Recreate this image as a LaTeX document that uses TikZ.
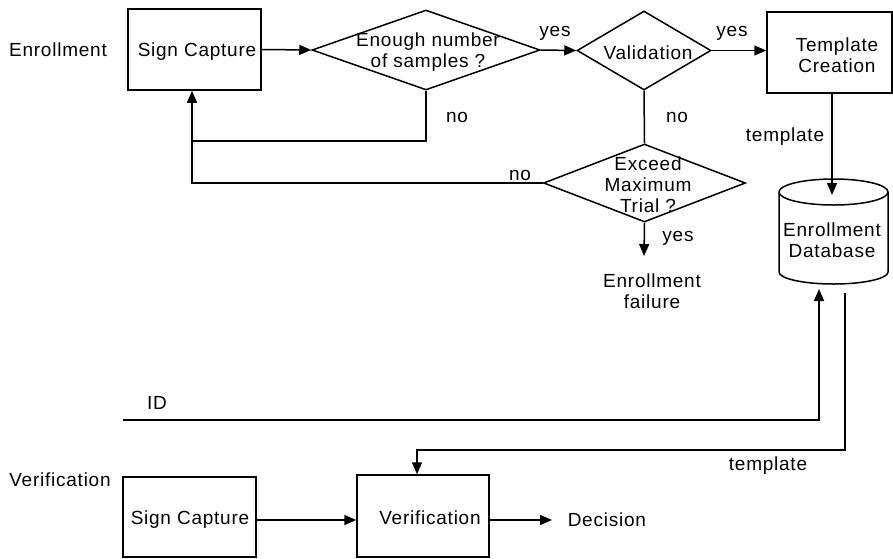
\documentclass[tikz,border=0pt]{standalone}
\usepackage{fontspec}
\setmainfont{Liberation Sans}[LetterSpace=4]
\usetikzlibrary{shapes.geometric,arrows.meta}
\begin{document}
\begin{tikzpicture}[x=1pt,y=-1pt, line width=1.5pt,
  >={Triangle[length=12pt,width=10pt]},
  every node/.style={font=\fontsize{19}{21}\selectfont, align=center},
  box/.style={draw, rectangle, inner sep=0pt},
  decbox/.style={draw, diamond, inner sep=0pt},
  lbl/.style={inner sep=0pt}]
\useasboundingbox (0,0) rectangle (893,558);

% ---------- enrollment ----------
\node[lbl] (enr) at (58,50) {Enrollment};
\node[box, minimum width=133pt, minimum height=81pt] (sc1) at (194.5,49.5) {};
\node[lbl] (sc1t) at (197,52) {Sign Capture};

\node[decbox, minimum width=228pt, minimum height=80pt] (d1) at (426,50) {};
\node[lbl] (d1t) at (428,52) {Enough number\\of samples ?};

\node[decbox, minimum width=134pt, minimum height=79pt] (val) at (644,50.5) {};
\node[lbl] (valt) at (648,53) {Validation};

\node[box, minimum width=125pt, minimum height=81pt] (tc) at (829.5,52.5) {};
\node[lbl] (tct) at (837,55) {Template\\Creation};

\node[decbox, minimum width=202pt, minimum height=78pt] (d3) at (644.5,183) {};
\node[lbl] (d3t) at (648,185) {Exceed\\Maximum\\Trial ?};

\node[lbl] (fail) at (652,291) {Enrollment\\failure};

% database cylinder
\node[lbl, minimum width=109pt, minimum height=107pt] (db) at (833.5,231.5) {};
\draw (833.5,192) ellipse [x radius=54.5pt, y radius=13pt];
\draw (779,192) -- (779,272) arc[start angle=180, end angle=360, x radius=54.5pt, y radius=12pt] -- (888,192);
\node[lbl] (dbt) at (832,240) {Enrollment\\Database};

% coordinates
\coordinate (j1) at (192,141);
\coordinate (failtip) at (644,256);
\coordinate (dbtop) at (832,195);
\coordinate (dbin) at (819,289);
\coordinate (dbout) at (845,293);
\coordinate (idst) at (123,420);
\coordinate (vin) at (417,450);

% connectors enrollment
\draw[->] (sc1.east) -- (d1.west);
\draw[->] (d1.east) -- (val.west);
\draw[->] (val.east) -- (val.east -| tc.west);
\draw[->] (d1.south) |- (j1) -- (sc1.south -| j1);
\draw (d3.west) -| (j1);
\draw (val.south) -- (d3.north);
\draw[->] (d3.south) -- (failtip);
\draw[->] (tc.south -| dbtop) -- (dbtop);

% labels
\node[lbl] (y1) at (555,33) {yes};
\node[lbl] (y2) at (732,33) {yes};
\node[lbl] (n1) at (457,117) {no};
\node[lbl] (n2) at (677,117) {no};
\node[lbl] (n3) at (520,175) {no};
\node[lbl] (y3) at (678,238) {yes};
\node[lbl] (tpl1) at (785,137) {template};

% ---------- verification ----------
\node[lbl] (veriflbl) at (60,480) {Verification};
\node[lbl] (idl) at (157,403) {ID};
\node[box, minimum width=133pt, minimum height=80pt] (sc2) at (189.5,517) {};
\node[lbl] (sc2t) at (190,520) {Sign Capture};
\node[box, minimum width=132pt, minimum height=82pt] (ver) at (423,516) {};
\node[lbl] (vert) at (430,518) {Verification};
\node[anchor=west, inner sep=0pt] (dec) at (567,520) {Decision};
\node[lbl] (tpl2) at (768,466) {template};

\draw[->] (idst) -| (dbin);
\draw[->] (dbout) |- (vin) -- (ver.north -| vin);
\draw[->] (sc2t.east -| sc2.east) -- (sc2t.east -| ver.west);
\draw[->] (dec.west -| ver.east) -- ([xshift=-15pt]dec.west);
\end{tikzpicture}
\end{document}
